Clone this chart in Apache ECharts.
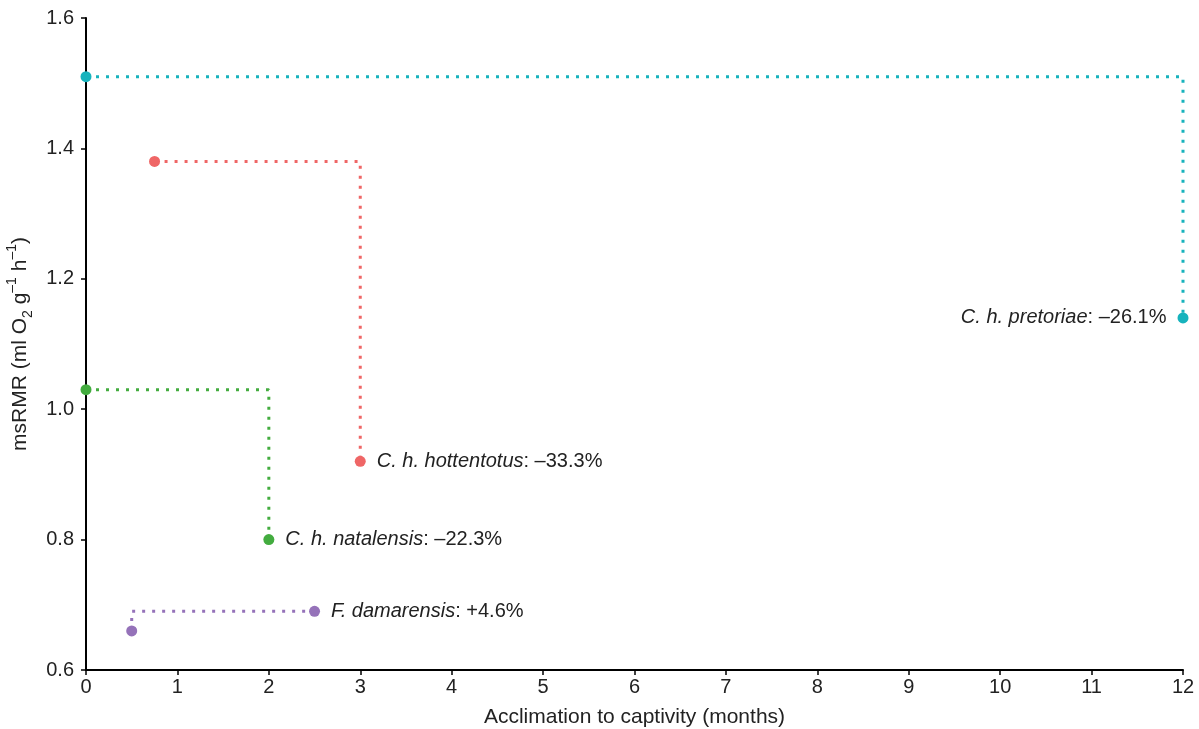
<!DOCTYPE html>
<html><head><meta charset="utf-8">
<script src="https://cdn.jsdelivr.net/npm/echarts@6/dist/echarts.min.js"></script>
<style>html,body{margin:0;padding:0;background:#fff}#c{width:1199px;height:729px}</style>
</head><body><div id="c"></div>
<script>
// Data: [months, msRMR]; middle point is the corner of the step path
const pretoriae = [[0, 1.51], [12, 1.51], [12, 1.14]];
const hottentotus = [[0.75, 1.38], [3, 1.38], [3, 0.92]];
const natalensis = [[0, 1.03], [2, 1.03], [2, 0.80]];
const damarensis = [[0.5, 0.66], [0.5, 0.69], [2.5, 0.69]];
const names = ['C. h. pretoriae', 'C. h. hottentotus', 'C. h. natalensis', 'F. damarensis'];
const changes = ['–26.1%', '–33.3%', '–22.3%', '+4.6%'];
const colors = ['#17b3bd', '#ef6666', '#43ac3f', '#9572b9'];
const labelSide = ['left', 'right', 'right', 'right'];
const xTicks = [0,1,2,3,4,5,6,7,8,9,10,11,12];
const yTicks = [0.6, 0.8, 1.0, 1.2, 1.4, 1.6];

const FONT = 'Liberation Sans, Arial, sans-serif';
const allData = [pretoriae, hottentotus, natalensis, damarensis];
const labelIdx = [2, 2, 2, 2];

const series = allData.map((d, i) => ({
  type: 'line',
  name: names[i],
  symbol: 'circle',
  symbolSize: 11,
  itemStyle: { color: colors[i] },
  lineStyle: { color: colors[i], width: 3, type: [3, 7] },
  data: d.map((p, j) => {
    const item = { value: p };
    if (j === 1) item.symbol = 'none';
    if (j === labelIdx[i]) {
      item.label = {
        show: true,
        position: labelSide[i],
        distance: 11,
        formatter: '{it|' + names[i] + '}{n|: ' + changes[i] + '}',
        rich: {
          it: { fontStyle: 'italic', fontSize: 20, color: '#222', fontFamily: FONT },
          n: { fontSize: 20, color: '#222', fontFamily: FONT }
        }
      };
    }
    return item;
  }),
  animation: false,
  z: 3
}));

const chart = echarts.init(document.getElementById('c'));
chart.setOption({
  backgroundColor: '#fff',
  animation: false,
  grid: { left: 86, right: 16, top: 18, bottom: 59, outerBoundsMode: 'none', containLabel: false },
  xAxis: {
    type: 'value', min: xTicks[0], max: xTicks[xTicks.length - 1], interval: 1,
    name: 'Acclimation to captivity (months)', nameLocation: 'middle', nameGap: 37,
    nameTextStyle: { fontSize: 21, color: '#222', fontFamily: FONT },
    axisLine: { show: true, onZero: false, lineStyle: { color: '#000', width: 2 } },
    axisTick: { show: true, length: 5, lineStyle: { color: '#000', width: 1.5 } },
    axisLabel: { fontSize: 20, color: '#222', margin: 7, fontFamily: FONT },
    splitLine: { show: false }
  },
  yAxis: {
    type: 'value', min: yTicks[0], max: yTicks[yTicks.length - 1], interval: 0.2,
    name: '{a|msRMR (ml O}{sub|2}{a| g}{sup|–1}{a| h}{sup|–1}{a|)}',
    nameLocation: 'middle', nameGap: 46, nameRotate: 90,
    nameTextStyle: {
      fontSize: 21, color: '#222', fontFamily: FONT,
      rich: {
        a: { fontSize: 21, color: '#222', fontFamily: FONT, lineHeight: 30, verticalAlign: 'middle' },
        sub: { fontSize: 14, color: '#222', fontFamily: FONT, lineHeight: 30, verticalAlign: 'bottom' },
        sup: { fontSize: 14, color: '#222', fontFamily: FONT, lineHeight: 30, verticalAlign: 'top' }
      }
    },
    axisLine: { show: true, onZero: false, lineStyle: { color: '#000', width: 2 } },
    axisTick: { show: true, length: 5, lineStyle: { color: '#000', width: 1.5 } },
    axisLabel: { fontSize: 20, color: '#222', margin: 12, fontFamily: FONT,
      formatter: v => v.toFixed(1) },
    splitLine: { show: false }
  },
  series: series
});
</script></body></html>
